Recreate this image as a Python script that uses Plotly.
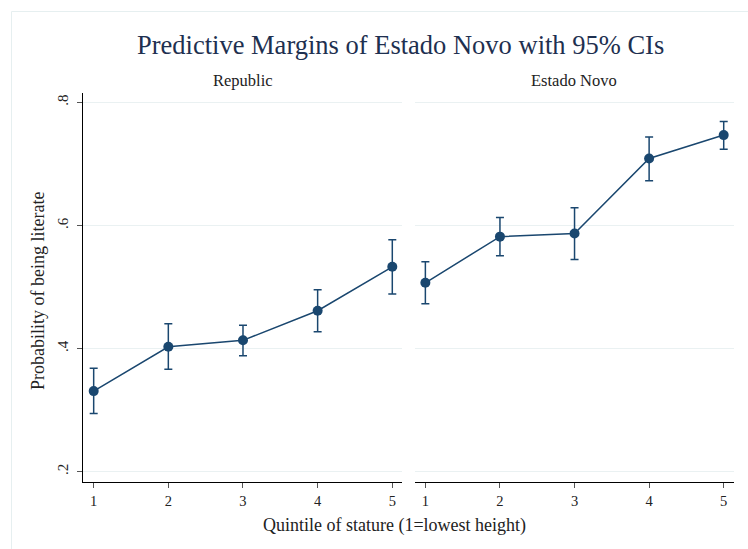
import plotly.graph_objects as go

# Predicted probability of literacy by stature quintile, with 95% CIs
quintiles = [1, 2, 3, 4, 5]
tick_labels = ["1", "2", "3", "4", "5"]

republic_est = [0.331, 0.403, 0.4135, 0.4616, 0.533]
republic_lo = [0.2946, 0.3665, 0.3886, 0.4275, 0.4886]
republic_hi = [0.368, 0.4405, 0.438, 0.4957, 0.577]

novo_est = [0.507, 0.582, 0.587, 0.709, 0.747]
novo_lo = [0.473, 0.551, 0.545, 0.673, 0.724]
novo_hi = [0.541, 0.613, 0.629, 0.744, 0.769]

panel_titles = ["Republic", "Estado Novo"]
y_ticks = [0.2, 0.4, 0.6, 0.8]
y_tick_labels = [".2", ".4", ".6", ".8"]

NAVY = "#1a476f"
FONT = "Liberation Serif"
W, H = 748, 549

fig = go.Figure()


def add_panel(est, lo, hi, xaxis, yaxis):
    fig.add_trace(go.Scatter(
        x=quintiles, y=est, xaxis=xaxis, yaxis=yaxis,
        mode="lines+markers",
        line=dict(color=NAVY, width=1.5),
        marker=dict(color=NAVY, size=10),
        error_y=dict(
            type="data", symmetric=False,
            array=[h - e for h, e in zip(hi, est)],
            arrayminus=[e - l for e, l in zip(est, lo)],
            color=NAVY, thickness=1.5, width=4,
        ),
        showlegend=False, cliponaxis=False,
    ))


add_panel(republic_est, republic_lo, republic_hi, "x", "y")
add_panel(novo_est, novo_lo, novo_hi, "x2", "y2")

x_range = [0.861, 5.134]
y_range = [0.1828, 0.8154]
y_dom = [1 - 482.3 / H, 1 - 93 / H]
left_dom = [83.3 / W, 402.3 / W]
right_dom = [415 / W, 733.7 / W]

xaxis_common = dict(
    range=x_range, tickvals=quintiles, ticktext=tick_labels,
    showgrid=False, zeroline=False, showline=True, linecolor="#000000",
    linewidth=1, ticks="outside", ticklen=5, tickcolor="#555555",
    tickfont=dict(family=FONT, size=14.5, color="#222222"),
)
yaxis_common = dict(
    range=y_range, tickvals=y_ticks, ticktext=y_tick_labels,
    showgrid=True, gridcolor="#eaf1f2", gridwidth=1, zeroline=False,
)

fig.update_layout(
    width=W, height=H,
    margin=dict(l=0, r=0, t=0, b=0),
    paper_bgcolor="white", plot_bgcolor="white",
    font=dict(family=FONT, color="#222222"),
    xaxis=dict(domain=left_dom, anchor="y", **xaxis_common),
    xaxis2=dict(domain=right_dom, anchor="y2", **xaxis_common),
    yaxis=dict(
        domain=y_dom, anchor="x", showline=True, linecolor="#000000",
        linewidth=1, ticks="outside", ticklen=5, tickcolor="#555555",
        tickangle=-90, ticklabelstandoff=3,
        tickfont=dict(family=FONT, size=15, color="#222222"),
        **yaxis_common,
    ),
    yaxis2=dict(
        domain=y_dom, anchor="x2", showline=False, showticklabels=False,
        ticks="", **yaxis_common,
    ),
    shapes=[dict(
        type="rect", xref="paper", yref="paper",
        x0=11.5 / W, x1=1.2, y0=-0.2, y1=1 - 11.5 / H,
        line=dict(color="#e6eff0", width=1), layer="below",
    )],
    annotations=[
        dict(text="Predictive Margins of Estado Novo with 95% CIs",
             x=400 / W, y=1 - 45 / H, xref="paper", yref="paper",
             xanchor="center", yanchor="middle", showarrow=False,
             font=dict(family=FONT, size=26.5, color="#1e3050")),
        dict(text=panel_titles[0],
             x=(left_dom[0] + left_dom[1]) / 2, y=1 - 80 / H,
             xref="paper", yref="paper", xanchor="center", yanchor="middle",
             showarrow=False, font=dict(family=FONT, size=16.5, color="#222222")),
        dict(text=panel_titles[1],
             x=(right_dom[0] + right_dom[1]) / 2, y=1 - 80 / H,
             xref="paper", yref="paper", xanchor="center", yanchor="middle",
             showarrow=False, font=dict(family=FONT, size=16.5, color="#222222")),
        dict(text="Probability of being literate",
             x=38 / W, y=1 - 291 / H, xref="paper", yref="paper",
             xanchor="center", yanchor="middle", textangle=-90,
             showarrow=False, font=dict(family=FONT, size=18, color="#222222")),
        dict(text="Quintile of stature (1=lowest height)",
             x=394 / W, y=1 - 525 / H, xref="paper", yref="paper",
             xanchor="center", yanchor="middle",
             showarrow=False, font=dict(family=FONT, size=18, color="#222222")),
    ],
)

fig.write_html("out.html")
